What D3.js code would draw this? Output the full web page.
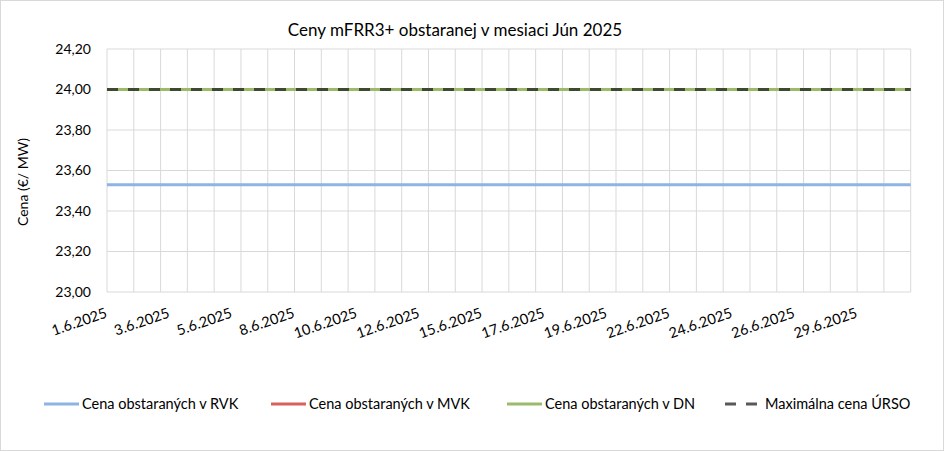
<!DOCTYPE html>
<html>
<head>
<meta charset="utf-8">
<script src="https://cdn.jsdelivr.net/npm/d3@7"></script>
<style>
  body { margin: 0; background: #fff; }
  svg text { font-family: Lato, "Open Sans", sans-serif; fill: #000; }
</style>
</head>
<body>
<svg width="945" height="452"></svg>
<script>
// chart data
const title = "Ceny mFRR3+ obstaranej v mesiaci Jún 2025";
const yTitle = "Cena (€/ MW)";

const days = d3.range(1, 31).map(d => new Date(2025, 5, d));

const rvk = [23.53, 23.53, 23.53, 23.53, 23.53, 23.53, 23.53, 23.53, 23.53, 23.53,
             23.53, 23.53, 23.53, 23.53, 23.53, 23.53, 23.53, 23.53, 23.53, 23.53,
             23.53, 23.53, 23.53, 23.53, 23.53, 23.53, 23.53, 23.53, 23.53, 23.53];
const mvk = [24.00, 24.00, 24.00, 24.00, 24.00, 24.00, 24.00, 24.00, 24.00, 24.00,
             24.00, 24.00, 24.00, 24.00, 24.00, 24.00, 24.00, 24.00, 24.00, 24.00,
             24.00, 24.00, 24.00, 24.00, 24.00, 24.00, 24.00, 24.00, 24.00, 24.00];
const dn  = [24.00, 24.00, 24.00, 24.00, 24.00, 24.00, 24.00, 24.00, 24.00, 24.00,
             24.00, 24.00, 24.00, 24.00, 24.00, 24.00, 24.00, 24.00, 24.00, 24.00,
             24.00, 24.00, 24.00, 24.00, 24.00, 24.00, 24.00, 24.00, 24.00, 24.00];
const maxUrso = [24.00, 24.00, 24.00, 24.00, 24.00, 24.00, 24.00, 24.00, 24.00, 24.00,
                 24.00, 24.00, 24.00, 24.00, 24.00, 24.00, 24.00, 24.00, 24.00, 24.00,
                 24.00, 24.00, 24.00, 24.00, 24.00, 24.00, 24.00, 24.00, 24.00, 24.00];

const xLabels = ["1.6.2025", "3.6.2025", "5.6.2025", "8.6.2025", "10.6.2025", "12.6.2025",
                 "15.6.2025", "17.6.2025", "19.6.2025", "22.6.2025", "24.6.2025",
                 "26.6.2025", "29.6.2025"];
const yTicks = [23.0, 23.2, 23.4, 23.6, 23.8, 24.0, 24.2];

const series = [
  { name: "Cena obstaraných v RVK", values: rvk, color: "#8eb4e3", dash: null },
  { name: "Cena obstaraných v MVK", values: mvk, color: "#d9605c", dash: null },
  { name: "Cena obstaraných v DN", values: dn, color: "#9bbb6a", dash: null },
  { name: "Maximálna cena ÚRSO", values: maxUrso, color: "#3d4a30", dash: "11,10" }
];

const svg = d3.select("svg");
const fmt = d3.format(".2f");

const plot = { left: 107, right: 910.7, top: 49, bottom: 292 };

const x = d3.scaleTime()
  .domain([days[0], d3.timeDay.offset(days[days.length - 1], 1)])
  .range([plot.left, plot.right]);

const y = d3.scaleLinear()
  .domain([23.0, 24.2])
  .range([plot.bottom, plot.top]);

// chart border
svg.append("rect")
  .attr("x", 0.5).attr("y", 0.5)
  .attr("width", 943).attr("height", 450)
  .attr("fill", "#fff")
  .attr("stroke", "#d9d9d9");

// title
svg.append("text")
  .attr("x", 455).attr("y", 36)
  .attr("text-anchor", "middle")
  .style("font-size", "17px")
  .text(title);

// gridlines
svg.append("g")
  .selectAll("line")
  .data(yTicks)
  .enter().append("line")
  .attr("x1", plot.left).attr("x2", plot.right)
  .attr("y1", d => y(d)).attr("y2", d => y(d))
  .attr("stroke", "#d9d9d9");

svg.append("g")
  .selectAll("line")
  .data(d3.timeDay.range(x.domain()[0], d3.timeDay.offset(x.domain()[1], 1)))
  .enter().append("line")
  .attr("x1", d => x(d)).attr("x2", d => x(d))
  .attr("y1", plot.top).attr("y2", plot.bottom)
  .attr("stroke", "#d9d9d9");

// y axis labels
svg.append("g")
  .selectAll("text")
  .data(yTicks)
  .enter().append("text")
  .attr("x", 91)
  .attr("y", d => y(d))
  .attr("dy", "0.35em")
  .attr("text-anchor", "end")
  .style("font-size", "14px")
  .text(d => fmt(d).replace(".", ","));

svg.append("text")
  .attr("transform", "translate(28, 182) rotate(-90)")
  .attr("text-anchor", "middle")
  .style("font-size", "14px")
  .text(yTitle);

// x axis labels, evenly spaced like the source axis
const xl = d3.scalePoint()
  .domain(xLabels)
  .range([x(days[0]), x(days[28])]);

svg.append("g")
  .selectAll("text")
  .data(xLabels)
  .enter().append("text")
  .attr("transform", d => "translate(" + (xl(d) + 1) + ", 317) rotate(-19)")
  .attr("text-anchor", "end")
  .style("font-size", "14.5px")
  .text(d => d);

// series lines (each day spans its whole cell)
const line = d3.line()
  .x(d => x(d.t))
  .y(d => y(d.v))
  .curve(d3.curveStepAfter);

series.forEach(s => {
  const pts = s.values.map((v, i) => ({ t: days[i], v: v }));
  pts.push({ t: x.domain()[1], v: s.values[s.values.length - 1] });
  svg.append("path")
    .datum(pts)
    .attr("d", line)
    .attr("fill", "none")
    .attr("stroke", s.color)
    .attr("stroke-width", 3)
    .attr("stroke-dasharray", s.dash);
});

// legend
const legendX = [44, 271, 507, 725];
const legend = svg.append("g")
  .selectAll("g")
  .data(series)
  .enter().append("g")
  .attr("transform", (d, i) => "translate(" + legendX[i] + ", 404)");

legend.append("line")
  .attr("x1", 0).attr("x2", d => d.dash ? 33 : 35)
  .attr("stroke", d => d.dash ? "#595959" : d.color)
  .attr("stroke-width", 3)
  .attr("stroke-dasharray", d => d.dash ? "11,10" : null);

legend.append("text")
  .attr("x", d => d.dash ? 40 : 38)
  .attr("dy", "0.35em")
  .style("font-size", "14.5px")
  .text(d => d.name);
</script>
</body>
</html>
